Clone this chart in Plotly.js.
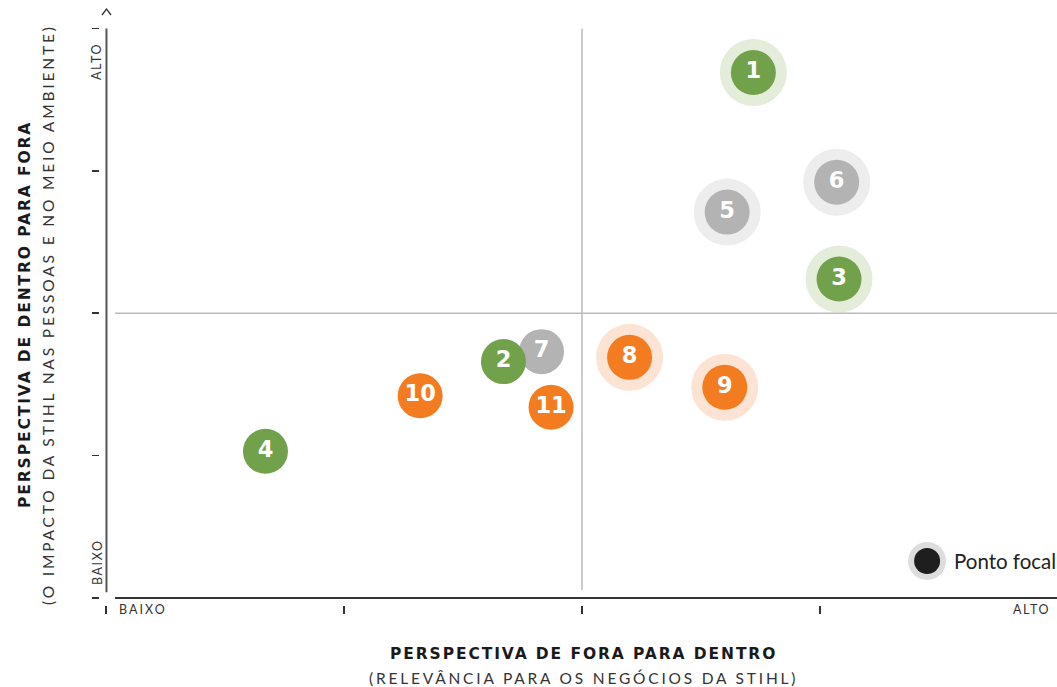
<!DOCTYPE html>
<html>
<head>
<meta charset="utf-8">
<script src="https://cdn.plot.ly/plotly-3.0.1.min.js"></script>
<style>html,body{margin:0;padding:0;background:#fff;}#chart{width:1057px;height:687px;}</style>
</head>
<body>
<div id="chart"></div>
<script>
// ---- data ----
const labels   = ['1','2','3','4','5','6','7','8','9','10','11'];
const xValues  = [2.72, 1.67, 3.08, 0.67, 2.61, 3.07, 1.83, 2.20, 2.60, 1.32, 1.87];
const yValues  = [3.69, 1.66, 2.24, 1.03, 2.71, 2.92, 1.73, 1.69, 1.48, 1.42, 1.34];
const groups   = ['green','green','green','green','gray','gray','gray','orange','orange','orange','orange'];
const focal    = [true, false, true, false, true, true, false, true, true, false, false];
const axisTicks = [0, 1, 2, 3, 4];
const lowLabel = 'BAIXO';
const highLabel = 'ALTO';
const xTitle = 'PERSPECTIVA DE FORA PARA DENTRO';
const xSubtitle = '(RELEVÂNCIA PARA OS NEGÓCIOS DA STIHL)';
const yTitle = 'PERSPECTIVA DE DENTRO PARA FORA';
const ySubtitle = '(O IMPACTO DA STIHL NAS PESSOAS E NO MEIO AMBIENTE)';
const legendLabel = 'Ponto focal';
const legendPos = {x: 3.45, y: 0.26};

// ---- styles ----
const colors = {green: '#71A14B', gray: '#B3B3B3', orange: '#F37C21'};
const halos  = {green: '#E3EDD9', gray: '#EDEDED', orange: '#FCE3D3'};
const drawOrder = ['gray', 'green', 'orange'];

const traces = [];
drawOrder.forEach(g => {
  const idx = labels.map((_, i) => i).filter(i => groups[i] === g && focal[i]);
  traces.push({
    type: 'scatter', mode: 'markers',
    x: idx.map(i => xValues[i]), y: idx.map(i => yValues[i]),
    marker: {size: 67, color: halos[g], line: {width: 0}},
    hoverinfo: 'skip', cliponaxis: false
  });
});
traces.push({type: 'scatter', mode: 'markers', x: [legendPos.x], y: [legendPos.y],
  marker: {size: 38, color: '#DDDDDD', line: {width: 0}}, hoverinfo: 'skip'});
traces.push({type: 'scatter', mode: 'markers', x: [legendPos.x], y: [legendPos.y],
  marker: {size: 26, color: '#1E1E1E', line: {width: 0}}, hoverinfo: 'skip'});
drawOrder.forEach(g => {
  const idx = labels.map((_, i) => i).filter(i => groups[i] === g);
  traces.push({
    type: 'scatter', mode: 'markers+text',
    x: idx.map(i => xValues[i]), y: idx.map(i => yValues[i]),
    text: idx.map(i => '<b>' + labels[i] + '</b>'),
    textposition: 'middle center',
    textfont: {family: 'DejaVu Sans', size: 22.5, color: '#FFFFFF', weight: 'bold'},
    marker: {size: 45, color: colors[g], line: {width: 0}},
    hoverinfo: 'skip', cliponaxis: false
  });
});

const PX_X = 238, PX_Y = 142.4;
const ML = 100, MB = 82, MT = 5, W = 1057, H = 687;
const plotW = W - ML, plotH = H - MT - MB;
const x0 = -6 / PX_X, x1 = x0 + plotW / PX_X;
const y0 = -7 / PX_Y, y1 = y0 + plotH / PX_Y;
const px = p => (p - ML) / plotW;
const py = p => (H - MB - p) / plotH;

const sp = (t, s) => '<span style="letter-spacing:' + s + 'px">' + t + '</span>';
const tickFont = {family: 'Lato', size: 12.5, color: '#333'};
const ann = (o) => Object.assign({xref: 'paper', yref: 'paper', xanchor: 'center', yanchor: 'middle', showarrow: false}, o);

const layout = {
  width: W, height: H,
  margin: {l: ML, r: 0, t: MT, b: MB},
  paper_bgcolor: '#FFFFFF', plot_bgcolor: '#FFFFFF',
  showlegend: false, hovermode: false,
  xaxis: {range: [x0, x1], tickvals: axisTicks, ticks: 'outside', ticklen: 8, tickwidth: 1.5,
    tickcolor: '#333', showticklabels: false, showgrid: false, zeroline: false, showline: false, fixedrange: true},
  yaxis: {range: [y0, y1], tickvals: axisTicks, ticks: 'outside', ticklen: 7, tickwidth: 1.5,
    tickcolor: '#333', showticklabels: false, showgrid: false, zeroline: false, showline: false, fixedrange: true},
  shapes: [
    {type: 'line', xref: 'x', yref: 'y', x0: 2, x1: 2, y0: 0.056, y1: 4, line: {color: '#BBBBBB', width: 1.5}},
    {type: 'line', xref: 'x', yref: 'y', x0: 0.038, x1: x1, y0: 2, y1: 2, line: {color: '#BBBBBB', width: 1.5}},
    {type: 'line', xref: 'x', yref: 'y', x0: 0.002, x1: 0.002, y0: 0.04, y1: 4, line: {color: '#555555', width: 2}},
    {type: 'line', xref: 'x', yref: 'y', x0: 0.038, x1: x1, y0: 0, y1: 0, line: {color: '#333333', width: 1.8}},
    {type: 'path', xref: 'x', yref: 'y', path: 'M -0.017,4.094 L 0.002,4.136 L 0.021,4.094', line: {color: '#333333', width: 1.3}}
  ],
  annotations: [
    ann({x: px(97), y: py(62), text: sp(highLabel, 1.6), textangle: -90, font: tickFont}),
    ann({x: px(97), y: py(562), text: sp(lowLabel, 1.6), textangle: -90, font: tickFont}),
    ann({x: px(117), y: py(609), xanchor: 'left', text: sp(lowLabel, 2.0), font: tickFont}),
    ann({x: px(1052), y: py(609), xanchor: 'right', text: sp(highLabel, 1.6), font: tickFont}),
    ann({x: px(583), y: py(654), text: '<b>' + sp(xTitle, 1.9) + '</b>',
      font: {family: 'DejaVu Sans', size: 15.5, color: '#1A1A1A', weight: 'bold'}}),
    ann({x: px(583), y: py(678), text: sp(xSubtitle, 2.8), font: {family: 'Lato', size: 15.5, color: '#333'}}),
    ann({x: px(25), y: py(315), text: '<b>' + sp(yTitle, 1.9) + '</b>', textangle: -90,
      font: {family: 'DejaVu Sans', size: 15.5, color: '#1A1A1A', weight: 'bold'}}),
    ann({x: px(48), y: py(315), text: sp(ySubtitle, 2.85), textangle: -90, font: {family: 'Lato', size: 15.5, color: '#333'}}),
    {xref: 'x', yref: 'y', x: legendPos.x + 0.103, y: legendPos.y, xanchor: 'left', yanchor: 'middle', text: legendLabel, showarrow: false,
      font: {family: 'Lato', size: 20.5, color: '#222'}}
  ]
};

Plotly.newPlot('chart', traces, layout, {displayModeBar: false, staticPlot: true});
</script>
</body>
</html>
